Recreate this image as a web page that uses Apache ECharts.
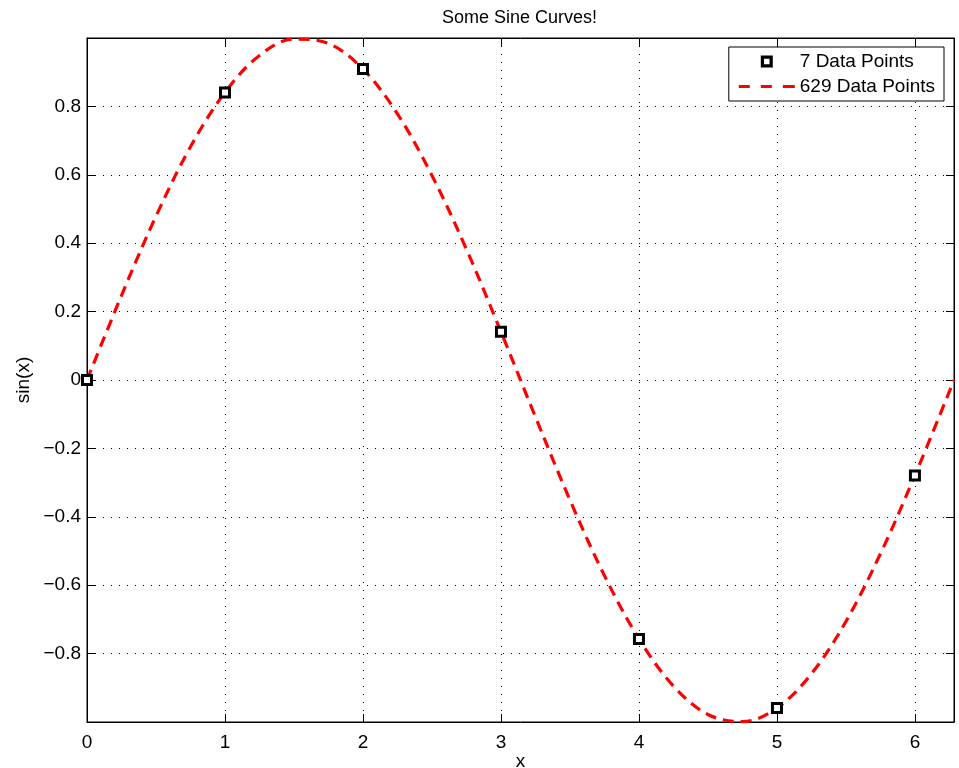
<!DOCTYPE html>
<html>
<head>
<meta charset="utf-8">
<script src="https://cdn.jsdelivr.net/npm/echarts@6/dist/echarts.min.js"></script>
<style>
  html, body { margin: 0; padding: 0; background: #fff; }
  #chart { width: 959px; height: 768px; }
</style>
</head>
<body>
<div id="chart"></div>
<script>
// 7 sample points
var sampleX = [0, 1, 2, 3, 4, 5, 6];
var sampleY = [0, 0.841, 0.909, 0.141, -0.757, -0.959, -0.279];

var curveX = [0, 0.25, 0.5, 0.75, 1, 1.25, 1.5, 1.75, 2, 2.25, 2.5, 2.75, 3,
    3.25, 3.5, 3.75, 4, 4.25, 4.5, 4.75, 5, 5.25, 5.5, 5.75, 6, 6.2832];
var curveY = [0, 0.247, 0.479, 0.682, 0.841, 0.949, 0.997, 0.984, 0.909, 0.778,
    0.598, 0.382, 0.141, -0.108, -0.351, -0.572, -0.757, -0.895, -0.978, -0.999,
    -0.959, -0.859, -0.706, -0.508, -0.279, 0];

var xTicks = [0, 1, 2, 3, 4, 5, 6];

var font = 'Liberation Sans, Arial, Helvetica, sans-serif';

function zip(xs, ys) {
    return xs.map(function (x, i) { return [x, ys[i]]; });
}

var myChart = echarts.init(document.getElementById('chart'));

var gridLine = { show: true, lineStyle: { color: '#000', width: 1, type: [1, 7] } };
var tickIn = { show: true, inside: true, length: 8, lineStyle: { color: '#000' } };

var option = {
    backgroundColor: '#fff',
    animation: false,
    title: {
        text: 'Some Sine Curves!',
        left: 437,
        top: 4,
        textStyle: { fontFamily: font, fontSize: 18, fontWeight: 'normal', color: '#000' }
    },
    grid: {
        left: 87, right: 5, top: 38, bottom: 46,
        outerBoundsMode: 'none',
        containLabel: false,
        show: true, borderColor: '#000', borderWidth: 1
    },
    legend: {
        orient: 'vertical',
        right: 15,
        top: 47,
        padding: [5, 9, 5, 10],
        itemWidth: 56,
        itemHeight: 12,
        itemGap: 6,
        backgroundColor: '#fff',
        borderColor: '#000',
        borderWidth: 1,
        textStyle: { fontFamily: font, fontSize: 19, color: '#000' },
        data: [{
            name: '7 Data Points',
            icon: 'path://M0,0h11v11h-11z M3,3v5h5v-5z',
            itemStyle: { color: '#000', borderWidth: 0 }
        }, {
            name: '629 Data Points',
            icon: 'path://M0,0h11v3h-11z M22,0h11v3h-11z M44,0h12v3h-12z',
            itemStyle: { color: '#ff0000', borderWidth: 0 }
        }]
    },
    xAxis: [{
        type: 'value',
        min: 0,
        max: 6.2832,
        interval: 1,
        name: 'x',
        nameLocation: 'middle',
        nameGap: 30,
        nameMoveOverlap: false,
        nameTextStyle: { fontFamily: font, fontSize: 19, color: '#000' },
        axisLine: { show: true, onZero: false, lineStyle: { color: '#000' } },
        axisTick: tickIn,
        axisLabel: {
            fontFamily: font, fontSize: 19, color: '#000', margin: 11,
            formatter: function (v) { return xTicks.indexOf(v) >= 0 ? String(v) : ''; }
        },
        splitLine: gridLine
    }, {
        type: 'value', position: 'top', min: 0, max: 6.2832, interval: 1,
        axisLine: { show: true, onZero: false, lineStyle: { color: '#000' } },
        axisTick: tickIn, axisLabel: { show: false }, splitLine: { show: false }
    }],
    yAxis: [{
        type: 'value',
        min: -1,
        max: 1,
        interval: 0.2,
        name: 'sin(x)',
        nameLocation: 'middle',
        nameGap: 54,
        nameMoveOverlap: false,
        nameTextStyle: { fontFamily: font, fontSize: 19, color: '#000' },
        axisLine: { show: true, onZero: false, lineStyle: { color: '#000' } },
        axisTick: tickIn,
        axisLabel: {
            fontFamily: font, fontSize: 19, color: '#000', margin: 6,
            formatter: function (v) {
                var r = Math.round(v * 10) / 10;
                if (Math.abs(r) > 0.85) return '';
                return r === 0 ? '0' : r.toFixed(1).replace('-', '\u2212');
            }
        },
        splitLine: gridLine
    }, {
        type: 'value', position: 'right', min: -1, max: 1, interval: 0.2,
        axisLine: { show: true, onZero: false, lineStyle: { color: '#000' } },
        axisTick: tickIn, axisLabel: { show: false }, splitLine: { show: false }
    }],
    series: [{
        name: '629 Data Points',
        type: 'line',
        data: zip(curveX, curveY),
        smooth: 0.35,
        symbol: 'none',
        lineStyle: { color: '#ff0000', width: 3.2, type: [11, 7] },
        itemStyle: { color: '#ff0000' },
        z: 2
    }, {
        name: '7 Data Points',
        type: 'scatter',
        data: zip(sampleX, sampleY),
        symbol: 'rect',
        symbolSize: 9,
        itemStyle: { color: '#fff', borderColor: '#000', borderWidth: 3, opacity: 1 },
        z: 3
    }]
};
myChart.setOption(option);
</script>
</body>
</html>
